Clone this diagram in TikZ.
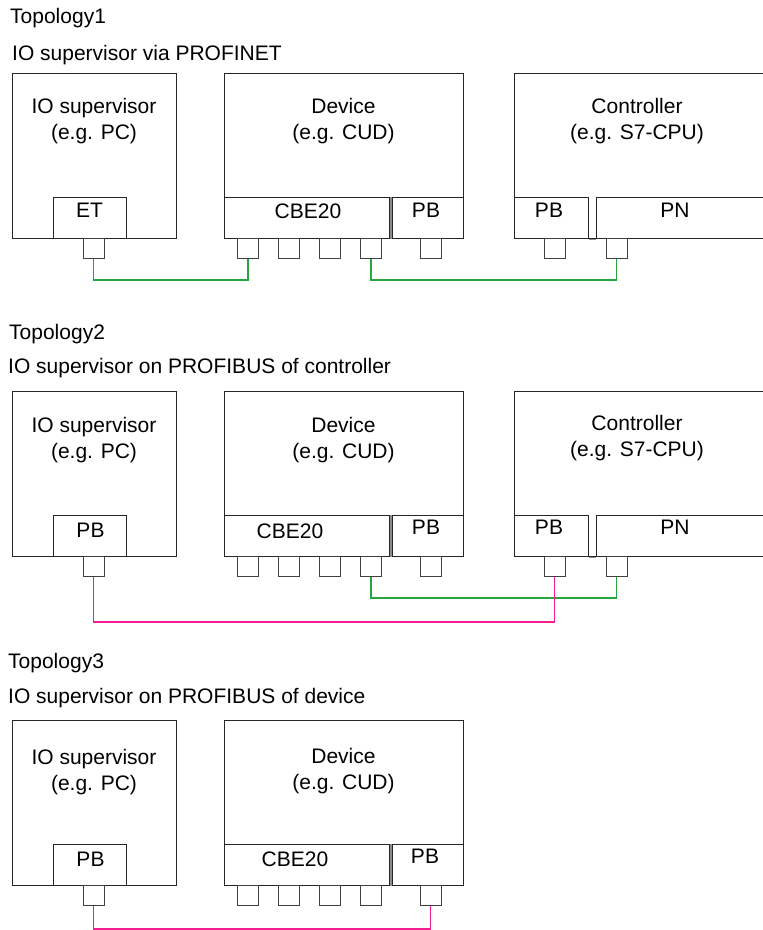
\documentclass[tikz,border=0pt]{standalone}
\usepackage{fontspec}
\setmainfont{Liberation Sans}
\usetikzlibrary{positioning}
\definecolor{pngreen}{RGB}{40,165,60}
\definecolor{pbpink}{RGB}{245,30,145}
\tikzstyle{unit} = [draw=black!85, line width=1.3pt, anchor=north west, inner sep=0pt]
\tikzstyle{port} = [draw=black!75, line width=1pt, minimum width=21pt, minimum height=20pt, inner sep=0pt]
\tikzstyle{heading} = [anchor=base west, inner sep=0pt]
\tikzstyle{caption} = [anchor=base, align=center, inner sep=0pt]
\tikzstyle{pnline} = [draw=pngreen, line width=1.6pt]
\tikzstyle{pbline} = [draw=pbpink, line width=1.8pt]
\tikzstyle{gap} = [fill=black!45]

\begin{document}
\begin{tikzpicture}[x=1pt, y=-1pt, font=\fontsize{21}{26}\selectfont]
        \clip (0,0) rectangle (763,930);
        % Topology 1
        \node[heading] (t1title) at (10,23) {Topology1};
        \node[heading] (t1sub) at (12,60) {IO supervisor via PROFINET};
        \node[unit, minimum width=164pt, minimum height=165pt] (t1sup) at (12,73) {};
        \node[unit, minimum width=73pt, minimum height=41pt] (t1supet) at (53,197) {};
        \node[unit, minimum width=239pt, minimum height=165pt] (t1dev) at (224,73) {};
        \node[unit, minimum width=165pt, minimum height=41pt] (t1cbe) at (224,197) {};
        \node[unit, minimum width=71pt, minimum height=41pt] (t1devpb) at (392,197) {};
        \node[unit, minimum width=256pt, minimum height=165pt] (t1ctl) at (514,73) {};
        \node[unit, minimum width=74pt, minimum height=41pt] (t1ctlpb) at (514,197) {};
        \node[unit, minimum width=174pt, minimum height=41pt] (t1ctlpn) at (596,197) {};
        \fill[gap] (t1cbe.north east) rectangle (t1devpb.south west);
        \draw[black!45, line width=1.3pt] (t1ctlpb.south east) -- (t1ctlpn.south west);
        \node[caption] (t1suptxt) at (94,139) {IO supervisor\\(e.g. PC)};
        \node[caption] (t1devtxt) at (343.5,139) {Device\\(e.g. CUD)};
        \node[caption] (t1ctltxt) at (637,139) {Controller\\(e.g. S7-CPU)};
        \node[caption] at (89.5,217) {ET};
        \node[caption] at (308,218) {CBE20};
        \node[caption] at (426,217) {PB};
        \node[caption] at (549,217) {PB};
        \node[caption] at (675,217) {PN};
        \node[port] (t1supp) at (93.5,248) {};
        \foreach \i/\x in {1/248,2/289,3/330,4/371,5/430.5}
            \node[port] (t1d\i) at (\x,248) {};
        \node[port] (t1c1) at (554.5,248) {};
        \node[port] (t1c2) at (616.5,248) {};
        \draw[pnline] (t1supp.south) -- ++(0,21.5) -| (t1d1.south);
        \draw[pnline] (t1d4.south) -- ++(0,21.5) -| (t1c2.south);

        % Topology 2
        \node[heading] (t2title) at (9,339) {Topology2};
        \node[heading] (t2sub) at (8,373) {IO supervisor on PROFIBUS of controller};
        \node[unit, minimum width=164pt, minimum height=165pt] (t2sup) at (12,391) {};
        \node[unit, minimum width=73pt, minimum height=41pt] (t2suppb) at (53,515) {};
        \node[unit, minimum width=239pt, minimum height=165pt] (t2dev) at (224,391) {};
        \node[unit, minimum width=165pt, minimum height=41pt] (t2cbe) at (224,515) {};
        \node[unit, minimum width=71pt, minimum height=41pt] (t2devpb) at (392,515) {};
        \node[unit, minimum width=256pt, minimum height=165pt] (t2ctl) at (514,391) {};
        \node[unit, minimum width=74pt, minimum height=41pt] (t2ctlpb) at (514,515) {};
        \node[unit, minimum width=174pt, minimum height=41pt] (t2ctlpn) at (596,515) {};
        \fill[gap] (t2cbe.north east) rectangle (t2devpb.south west);
        \draw[black!45, line width=1.3pt] (t2ctlpb.south east) -- (t2ctlpn.south west);
        \node[caption] (t2suptxt) at (94,458) {IO supervisor\\(e.g. PC)};
        \node[caption] (t2devtxt) at (343.5,458) {Device\\(e.g. CUD)};
        \node[caption] (t2ctltxt) at (637,456) {Controller\\(e.g. S7-CPU)};
        \node[caption] at (90.5,537) {PB};
        \node[caption] at (290,538) {CBE20};
        \node[caption] at (426,534) {PB};
        \node[caption] at (549,534) {PB};
        \node[caption] at (675,534) {PN};
        \node[port] (t2supp) at (93.5,566.5) {};
        \foreach \i/\x in {1/248,2/289,3/330,4/371,5/430.5}
            \node[port] (t2d\i) at (\x,566.5) {};
        \node[port] (t2c1) at (554.5,566.5) {};
        \node[port] (t2c2) at (616.5,566.5) {};
        \draw[pnline] (t2d4.south) -- ++(0,21) -| (t2c2.south);
        \draw[pbline] (t2supp.south) -- ++(0,45) -| (t2c1.south);

        % Topology 3
        \node[heading] (t3title) at (8,668) {Topology3};
        \node[heading] (t3sub) at (8,703) {IO supervisor on PROFIBUS of device};
        \node[unit, minimum width=164pt, minimum height=165pt] (t3sup) at (12,720) {};
        \node[unit, minimum width=73pt, minimum height=41pt] (t3suppb) at (53,844) {};
        \node[unit, minimum width=239pt, minimum height=165pt] (t3dev) at (224,720) {};
        \node[unit, minimum width=165pt, minimum height=41pt] (t3cbe) at (224,844) {};
        \node[unit, minimum width=71pt, minimum height=41pt] (t3devpb) at (392,844) {};
        \fill[gap] (t3cbe.north east) rectangle (t3devpb.south west);
        \node[caption] (t3suptxt) at (94,790) {IO supervisor\\(e.g. PC)};
        \node[caption] (t3devtxt) at (343.5,789) {Device\\(e.g. CUD)};
        \node[caption] at (90.5,866) {PB};
        \node[caption] at (295,866) {CBE20};
        \node[caption] at (425,863) {PB};
        \node[port] (t3supp) at (93.5,895.5) {};
        \foreach \i/\x in {1/248,2/289,3/330,4/371,5/430.5}
            \node[port] (t3d\i) at (\x,895.5) {};
        \draw[pbline] (t3supp.south) -- ++(0,23) -| (t3d5.south);
    \end{tikzpicture}
\end{document}
